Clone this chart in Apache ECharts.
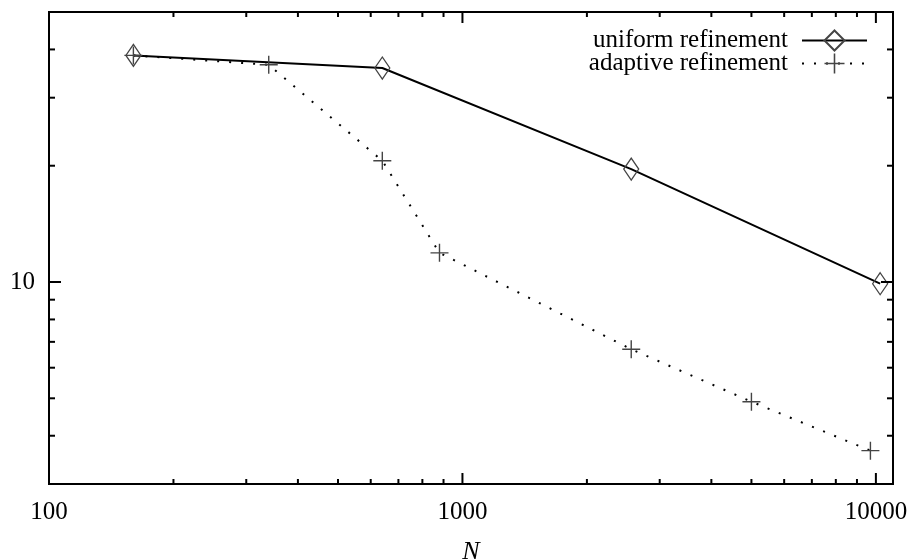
<!DOCTYPE html>
<html>
<head>
<meta charset="utf-8">
<script src="https://cdn.jsdelivr.net/npm/echarts@6/dist/echarts.min.js"></script>
<style>html,body{margin:0;padding:0;background:#fff}#c{width:916px;height:560px}</style>
</head>
<body>
<div id="c"></div>
<script>
// ---- data ----
const uniformN = [160, 640, 2560, 10240];
const uniformErr = [38.6, 35.8, 19.6, 9.9];
const adaptiveN = [160, 340, 640, 880, 2560, 5000, 9700];
const adaptiveErr = [38.6, 36.5, 20.6, 11.9, 6.7, 4.9, 3.66];
const xMin = 100, xMax = 11000;
const yMin = 3, yMax = 50;
const xMajorTicks = [100, 1000, 10000];
const xMinorTicks = [200, 300, 400, 500, 600, 700, 800, 900, 2000, 3000, 4000, 5000, 6000, 7000, 8000, 9000];
const yMajorTicks = [10];
const yMinorTicks = [3, 4, 5, 6, 7, 8, 9, 20, 30, 40, 50];
const xLabels = ['100', '1000', '10000'];
const yLabels = ['10'];

const FONT = 'Liberation Serif';
const chart = echarts.init(document.getElementById('c'));

function xTickItem(params, api) {
  const v = api.value(0);
  const len = xMajorTicks.indexOf(v) >= 0 ? 11 : 5;
  const b = api.coord([v, yMin]);
  const t = api.coord([v, yMax]);
  const st = {stroke: '#000', lineWidth: 2};
  return {type: 'group', children: [
    {type: 'line', shape: {x1: b[0], y1: b[1], x2: b[0], y2: b[1] - len}, style: st},
    {type: 'line', shape: {x1: t[0], y1: t[1], x2: t[0], y2: t[1] + len}, style: st}
  ]};
}
function yTickItem(params, api) {
  const v = api.value(1);
  const len = yMajorTicks.indexOf(v) >= 0 ? 12 : 6;
  const l = api.coord([xMin, v]);
  const r = api.coord([xMax, v]);
  const st = {stroke: '#000', lineWidth: 2};
  return {type: 'group', children: [
    {type: 'line', shape: {x1: l[0], y1: l[1], x2: l[0] + len, y2: l[1]}, style: st},
    {type: 'line', shape: {x1: r[0], y1: r[1], x2: r[0] - len, y2: r[1]}, style: st}
  ]};
}

const plusPath = 'path://M8.3,0 H9.7 V8.3 H18 V9.7 H9.7 V18 H8.3 V9.7 H0 V8.3 H8.3 Z';

chart.setOption({
  animation: false,
  textStyle: {fontFamily: FONT},
  grid: {left: 49, right: 23, top: 12, bottom: 76, show: true, borderColor: '#000', borderWidth: 2,
         containLabel: false, outerBoundsMode: 'none'},
  legend: {
    data: ['uniform refinement', 'adaptive refinement'],
    orient: 'vertical', right: 43, top: 23, align: 'right',
    itemWidth: 65, itemHeight: 25, itemGap: -2,
    textStyle: {fontFamily: FONT, fontSize: 25, color: '#000', lineHeight: 18, padding: [0, 9, 0, 0]}
  },
  xAxis: {
    type: 'log', logBase: 10, min: xMin, max: xMax,
    name: 'N', nameLocation: 'middle', nameGap: 55,
    nameTextStyle: {fontFamily: FONT, fontSize: 26, fontStyle: 'italic', color: '#000'},
    axisLine: {show: false}, axisTick: {show: false}, splitLine: {show: false},
    axisLabel: {
      fontFamily: FONT, fontSize: 25, color: '#000', margin: 16,
      showMaxLabel: false,
      formatter: v => { const i = xMajorTicks.indexOf(Math.round(v)); return i >= 0 ? xLabels[i] : ''; }
    }
  },
  yAxis: {
    type: 'log', logBase: 10, min: yMin, max: yMax,
    axisLine: {show: false}, axisTick: {show: false}, splitLine: {show: false},
    axisLabel: {
      fontFamily: FONT, fontSize: 25, color: '#000', margin: 14,
      formatter: v => { const i = yMajorTicks.indexOf(Math.round(v * 1000) / 1000); return i >= 0 ? yLabels[i] : ''; }
    }
  },
  series: [
    {
      name: 'uniform refinement', type: 'line',
      data: uniformN.map((n, i) => [n, uniformErr[i]]),
      color: '#000',
      symbol: 'diamond', symbolSize: [15, 22],
      lineStyle: {color: '#000', width: 2, type: 'solid'},
      itemStyle: {color: 'rgba(0,0,0,0)', borderColor: '#444', borderWidth: 1.3},
      z: 3
    },
    {
      name: 'adaptive refinement', type: 'line',
      data: adaptiveN.map((n, i) => [n, adaptiveErr[i]]),
      color: '#000',
      symbol: plusPath, symbolSize: 18,
      lineStyle: {color: '#000', width: 2, type: [2, 10]},
      itemStyle: {color: '#444'},
      z: 3
    },
    {
      type: 'custom', name: 'xticks', silent: true, clip: false,
      data: xMajorTicks.concat(xMinorTicks).map(v => [v, yMin]),
      renderItem: xTickItem, z: 5
    },
    {
      type: 'custom', name: 'yticks', silent: true, clip: false,
      data: yMajorTicks.concat(yMinorTicks).map(v => [xMin, v]),
      renderItem: yTickItem, z: 5
    }
  ]
});
</script>
</body>
</html>
